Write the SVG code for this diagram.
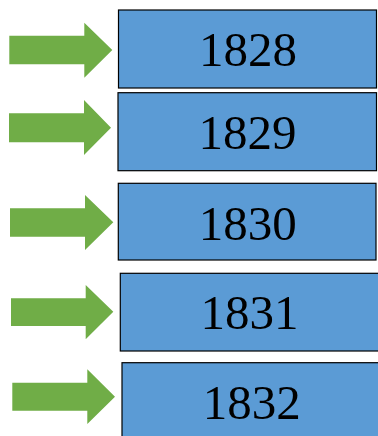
<svg xmlns="http://www.w3.org/2000/svg" width="378" height="436" viewBox="0 0 378 436">
  <style>
    .box { fill: #5B9BD5; stroke: #000; stroke-width: 1.2; }
    .arrow { fill: #70AD47; }
    .lbl { font-family: "Liberation Serif", "DejaVu Serif", serif; font-size: 49px; fill: #000; text-anchor: middle; }
  </style>
  <rect width="378" height="436" fill="#fff"/>
  <g id="connectors">
    <polygon class="arrow" points="9.3,35.7 84.3,35.7 84.3,22.7 112.3,50 84.3,77.7 84.3,64.3 9.3,64.3"/>
    <polygon class="arrow" points="9,113.3 84,113.3 84,100 111,127.7 84,155 84,142.3 9,142.3"/>
    <polygon class="arrow" points="10,208.3 85,208.3 85,195 113.3,222.3 85,250 85,236.7 10,236.7"/>
    <polygon class="arrow" points="11,298.3 85.7,298.3 85.7,285 113.3,311.7 85.7,339.3 85.7,326 11,326"/>
    <polygon class="arrow" points="12.3,382.7 87.3,382.7 87.3,369.3 115,396.7 87.3,424 87.3,410.7 12.3,410.7"/>
  </g>
  <g id="node-1828">
    <rect class="box" x="118.5" y="10" width="258" height="78"/>
    <text class="lbl" x="248" y="65.7">1828</text>
  </g>
  <g id="node-1829">
    <rect class="box" x="118" y="92.7" width="258.5" height="78"/>
    <text class="lbl" x="247.5" y="148.5">1829</text>
  </g>
  <g id="node-1830">
    <rect class="box" x="118.3" y="183.3" width="257.7" height="76.7"/>
    <text class="lbl" x="247.7" y="240">1830</text>
  </g>
  <g id="node-1831">
    <rect class="box" x="120.3" y="273.3" width="260" height="77.7"/>
    <text class="lbl" x="249.5" y="329.3">1831</text>
  </g>
  <g id="node-1832">
    <rect class="box" x="122" y="362.7" width="260" height="80"/>
    <text class="lbl" x="251.7" y="419">1832</text>
  </g>
</svg>
